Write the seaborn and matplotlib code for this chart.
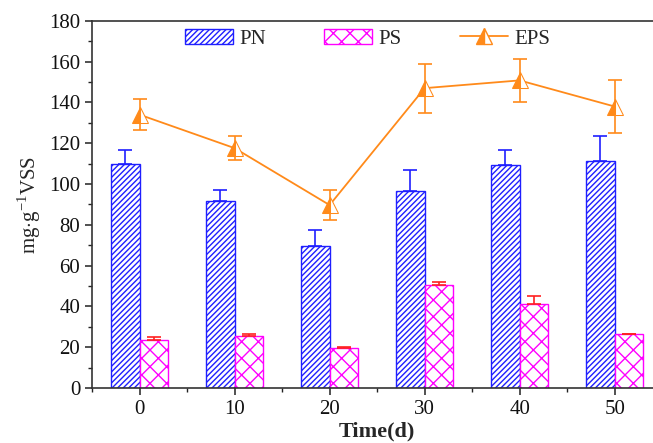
import numpy as np
import pandas as pd
import matplotlib
matplotlib.use("Agg")
import matplotlib.pyplot as plt
import seaborn as sns
from matplotlib.ticker import MultipleLocator, AutoMinorLocator
from matplotlib.lines import Line2D
from matplotlib.patches import Patch

# Sampling days
days = [0, 10, 20, 30, 40, 50]

# Protein (PN), polysaccharide (PS) and total EPS, mg/g VSS
pn = [110.0, 91.7, 69.7, 96.4, 109.5, 111.3]
pn_err = [6.5, 5.3, 7.6, 10.6, 7.0, 12.4]
ps = [23.8, 25.5, 19.7, 50.7, 41.0, 26.3]
ps_err = [1.2, 1.1, 0.5, 1.2, 4.2, 0.3]
eps = [134.0, 117.6, 89.7, 147.0, 150.8, 138.0]
eps_err = [7.7, 6.0, 7.5, 12.0, 10.4, 13.0]

sns.set_theme(style="ticks")
plt.rcParams["font.family"] = ["Liberation Serif", "DejaVu Serif"]
plt.rcParams["mathtext.fontset"] = "custom"
plt.rcParams["mathtext.rm"] = "Liberation Serif"
plt.rcParams["hatch.linewidth"] = 1.0

df = pd.DataFrame({
    "day": [str(d) for d in days] * 2,
    "value": pn + ps,
    "kind": ["PN"] * len(days) + ["PS"] * len(days),
})

fig = plt.figure(figsize=(6.53, 4.43), dpi=100)
ax = fig.add_axes([0.141, 0.124, 0.873, 0.829])

blue = "#1f1fff"
magenta = "#ff00ff"
orange = "#ff8a1a"

sns.barplot(data=df, x="day", y="value", hue="kind", width=0.6,
            palette={"PN": "white", "PS": "white"}, errorbar=None,
            legend=False, ax=ax, saturation=1)

styles = {"PN": (blue, "//////"), "PS": (magenta, "xx")}
for cont, kind in zip(ax.containers, ["PN", "PS"]):
    col, h = styles[kind]
    for bar in cont:
        bar.set_facecolor("white")
        bar.set_edgecolor(col)
        bar.set_hatch(h)
        bar.set_linewidth(1.0)

x = np.arange(len(days))
ax.errorbar(x - 0.15, pn, yerr=[np.zeros(len(pn)), pn_err], fmt="none",
            ecolor=blue, elinewidth=1.2, capsize=5, capthick=1.2)
ax.errorbar(x + 0.15, ps, yerr=[np.zeros(len(ps)), ps_err], fmt="none",
            ecolor="#ff2020", elinewidth=1.2, capsize=5, capthick=1.2)

eps_df = pd.DataFrame({"x": x, "eps": eps})
sns.lineplot(data=eps_df, x="x", y="eps", color=orange, lw=1.3, ax=ax,
             marker="^", markersize=11, fillstyle="left",
             markerfacecolor=orange, markerfacecoloralt="white",
             markeredgecolor=orange, zorder=4)
ax.errorbar(x, eps, yerr=eps_err, fmt="none", ecolor=orange,
            elinewidth=1.2, capsize=5, capthick=1.2, zorder=3)

ax.set_xlim(-0.5, 5.5)
ax.set_ylim(0, 180)
ax.yaxis.set_major_locator(MultipleLocator(20))
ax.yaxis.set_minor_locator(AutoMinorLocator(2))
ax.xaxis.set_minor_locator(MultipleLocator(0.5))
ax.set_xticks(x)
ax.set_xticklabels([str(d) for d in days])
ax.tick_params(axis="both", which="major", direction="out", length=5,
               width=1.1, labelsize=15, color="#222222", labelcolor="#111111")
ax.tick_params(axis="both", which="minor", direction="out", length=3,
               width=1.0, color="#222222")
for s in ["left", "bottom", "top", "right"]:
    ax.spines[s].set_visible(True)
    ax.spines[s].set_linewidth(1.2)
    ax.spines[s].set_color("#333333")

ax.set_xlabel("Time(d)", fontsize=16, fontweight="bold", labelpad=2)
ax.set_ylabel(r"mg$\cdot$g$^{-1}$VSS", fontsize=15, labelpad=4)

handles = [
    Patch(facecolor="white", edgecolor=blue, hatch="//////", label="PN"),
    Patch(facecolor="white", edgecolor=magenta, hatch="xx", label="PS"),
    Line2D([0], [0], color=orange, lw=1.3, marker="^", markersize=11,
           fillstyle="left", markerfacecolor=orange,
           markerfacecoloralt="white", markeredgecolor=orange, label="EPS"),
]
ax.legend(handles=handles, loc="center left", bbox_to_anchor=(0.163, 0.951),
          ncol=3, frameon=False, fontsize=15, handlelength=2.3,
          handleheight=0.7, columnspacing=2.8, handletextpad=0.3,
          borderpad=0, borderaxespad=0)

fig.savefig("out.png", dpi=100)
